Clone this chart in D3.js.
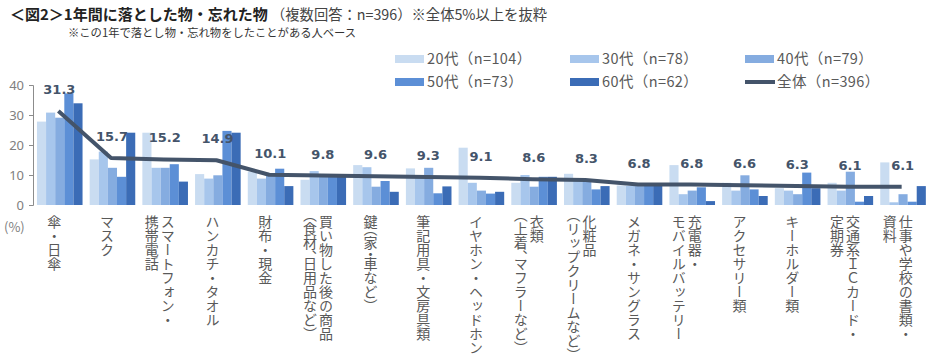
<!DOCTYPE html>
<html><head><meta charset="utf-8">
<script src="https://cdn.jsdelivr.net/npm/d3@7"></script>
<style>
body{margin:0;background:#fff;}
svg{display:block;font-family:"Noto Sans CJK JP","Noto Sans",sans-serif;}
</style></head>
<body><svg id="c" width="934" height="364"></svg>
<script>
const categories = [
  ["傘・日傘"], ["マスク"], ["スマートフォン・", "携帯電話"], ["ハンカチ・タオル"], ["財布・現金"],
  ["買い物した後の商品", "（食材、日用品など）"], ["鍵（家・車など）"], ["筆記用具・文房具類"],
  ["イヤホン・ヘッドホン"], ["衣類", "（上着、マフラーなど）"], ["化粧品", "（リップクリームなど）"],
  ["メガネ・サングラス"], ["充電器・", "モバイルバッテリー"], ["アクセサリー類"], ["キーホルダー類"],
  ["交通系ＩＣカード・", "定期券"], ["仕事や学校の書類・", "資料"]
];
const seriesNames = ["20代（n=104）", "30代（n=78）", "40代（n=79）", "50代（n=73）", "60代（n=62）"];
const totalName = "全体（n=396）";
const age20 = [27.8, 15.2, 24.1, 10.3, 11.1, 8.4, 13.3, 12.2, 19.1, 7.4, 10.4, 6.5, 13.3, 7.4, 5.6, 7.4, 14.2];
const age30 = [30.8, 17.8, 12.4, 8.8, 8.8, 11.3, 12.6, 9.4, 7.4, 10.0, 8.9, 6.4, 3.6, 4.8, 4.8, 4.8, 0.9];
const age40 = [29.1, 12.4, 12.4, 9.9, 10.3, 9.5, 6.1, 12.4, 4.8, 6.1, 7.8, 6.3, 4.8, 9.9, 3.6, 11.1, 3.6];
const age50 = [37.2, 9.4, 13.6, 24.7, 12.1, 9.5, 8.0, 3.9, 3.8, 9.4, 5.2, 6.8, 5.9, 5.2, 10.8, 1.1, 1.1];
const age60 = [33.9, 24.1, 7.8, 24.1, 6.3, 9.7, 4.4, 6.2, 4.4, 9.4, 6.3, 6.8, 1.3, 3.0, 5.6, 3.0, 6.3];
const total = [31.3, 15.7, 15.2, 14.9, 10.1, 9.8, 9.6, 9.3, 9.1, 8.6, 8.3, 6.8, 6.8, 6.6, 6.3, 6.1, 6.1];
const yTicks = [0, 10, 20, 30, 40];

const colors = ["#C9DCF1", "#A7C6EC", "#85ACE0", "#5C8FD6", "#3B6CB6"];
const lineColor = "#44546A";
const series = [age20, age30, age40, age50, age60];

const svg = d3.select("#c");
const idx = d3.range(categories.length);
const x = d3.scaleBand().domain(idx).range([33, 929]).padding(0);
const bw = x.bandwidth();
const x1 = d3.scaleBand().domain(d3.range(5)).range([bw * 0.075, bw * 0.94]).padding(0);
const y = d3.scaleLinear().domain([0, 40]).range([205, 85]);

// title
svg.append("text").attr("x", 10).attr("y", 20).attr("font-size", 15).attr("font-weight", "bold").attr("fill", "#222")
  .text("＜図2＞1年間に落とした物・忘れた物");
svg.append("text").attr("x", 271).attr("y", 20).attr("font-size", 14.3).attr("fill", "#444")
  .text("（複数回答：n=396）※全体5%以上を抜粋");
svg.append("text").attr("x", 68).attr("y", 37).attr("font-size", 11.3).attr("fill", "#333")
  .text("※この1年で落とし物・忘れ物をしたことがある人ベース");

// bars
series.forEach((s, si) => {
  svg.append("g").selectAll("rect").data(s).join("rect")
    .attr("x", (d, i) => x(i) + x1(si))
    .attr("width", x1.bandwidth())
    .attr("y", d => y(d))
    .attr("height", d => y(0) - y(d))
    .attr("fill", colors[si]);
});

// y axis
const yAxis = d3.axisLeft(y).tickValues(yTicks).tickSize(4).tickFormat(d3.format("d"));
const ga = svg.append("g").attr("transform", "translate(33,0)").call(yAxis);
ga.select(".domain").attr("stroke", "#8c8c8c");
ga.selectAll(".tick line").attr("stroke", "#8c8c8c");
ga.selectAll(".tick text").attr("fill", "#808080").attr("font-size", 13).attr("x", -9)
  .attr("font-family", "Noto Sans, sans-serif");
svg.append("text").attr("x", 4).attr("y", 232).attr("font-size", 13).attr("fill", "#808080").text("(%)");

// total line
const line = d3.line().x((d, i) => x(i) + bw / 2 - 1).y(d => y(d));
svg.append("path").datum(total).attr("d", line).attr("fill", "none")
  .attr("stroke", lineColor).attr("stroke-width", 4).attr("stroke-linejoin", "round");

// value labels
svg.append("g").selectAll("text").data(total).join("text")
  .attr("x", (d, i) => x(i) + bw / 2)
  .attr("y", d => y(d) - 17)
  .attr("text-anchor", "middle")
  .attr("font-family", "DejaVu Sans, sans-serif")
  .attr("font-weight", "bold").attr("font-size", 13).attr("fill", lineColor)
  .text(d => d.toFixed(1));

// x labels (vertical)
categories.forEach((lines, i) => {
  const n = lines.length;
  const cx = x(i) + bw / 2 - 5;
  lines.forEach((t, li) => {
    const off = (n - 1) * 8 - li * 16;
    const hasParen = t.indexOf("（") >= 0;
    svg.append("text")
      .attr("x", cx + off).attr("y", 215)
      .attr("font-size", 14).attr("fill", "#595959")
      .style("writing-mode", "vertical-rl")
      .style("font-feature-settings", hasParen ? "'vhal' 1" : "normal")
      .attr("dominant-baseline", "central")
      .text(t);
  });
});

// legend
const legendItems = seriesNames.map((n, i) => ({name: n, color: colors[i], type: "bar"}));
legendItems.push({name: totalName, color: lineColor, type: "line"});
const lx = [395, 570, 745];
const ly = [59, 82];
legendItems.forEach((it, i) => {
  const g = svg.append("g").attr("transform", `translate(${lx[i % 3]},${ly[Math.floor(i / 3)]})`);
  if (it.type === "bar") g.append("rect").attr("x", 0).attr("y", -4).attr("width", 29).attr("height", 8).attr("fill", it.color);
  else g.append("line").attr("x1", 0).attr("x2", 30).attr("stroke", it.color).attr("stroke-width", 4);
  g.append("text").attr("x", 32).attr("y", 0).attr("dy", "0.36em").attr("font-size", 14.5)
    .style("letter-spacing", "0.4px").attr("fill", "#595959").text(it.name);
});
</script></body></html>
